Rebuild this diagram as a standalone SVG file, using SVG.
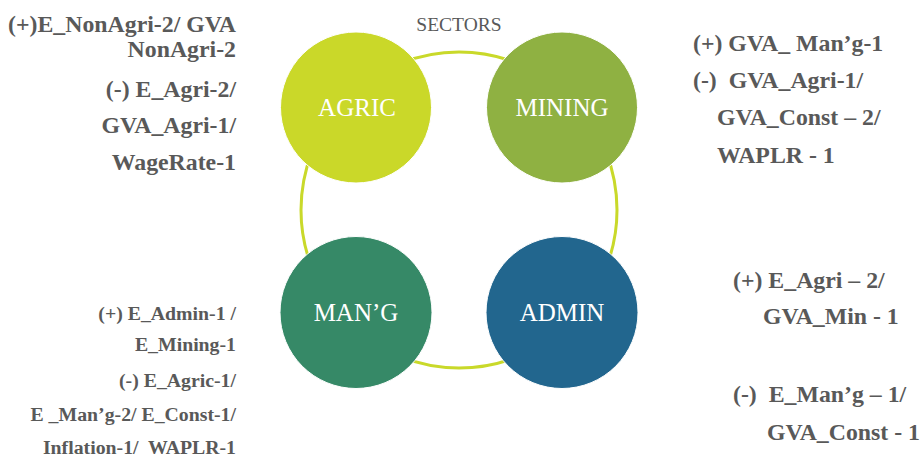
<svg xmlns="http://www.w3.org/2000/svg" width="923" height="457" viewBox="0 0 923 457">
  <style>
    .ring { fill: none; stroke: #c9d92a; stroke-width: 3; }
    .hub { stroke: #ffffff; stroke-width: 1; }
    .hub-label { font-family: "Liberation Serif", serif; font-size: 25px; fill: #ffffff; text-anchor: middle; }
    .title { font-family: "Liberation Serif", serif; font-size: 19.5px; fill: #595959; text-anchor: middle; }
    .note { font-family: "Liberation Serif", serif; font-weight: bold; font-size: 23.8px; fill: #595959; white-space: pre; }
    .note-sm { font-family: "Liberation Serif", serif; font-weight: bold; font-size: 19.8px; fill: #595959; white-space: pre; }
    .end { text-anchor: end; }
  </style>

  <rect width="923" height="457" fill="#ffffff"/>

  <!-- ring that links the four sectors -->
  <g id="connectors">
    <circle class="ring" cx="459" cy="210" r="158"/>
  </g>

  <text class="title" x="459" y="31">SECTORS</text>

  <g id="agric">
    <circle class="hub" cx="356" cy="107.5" r="75.5" fill="#cad829"/>
    <text class="hub-label" x="357" y="116">AGRIC</text>
  </g>
  <g id="mining">
    <circle class="hub" cx="562" cy="107.5" r="75.5" fill="#8fb142"/>
    <text class="hub-label" x="562" y="116">MINING</text>
  </g>
  <g id="mang">
    <circle class="hub" cx="356" cy="312.5" r="76" fill="#368967"/>
    <text class="hub-label" x="356" y="321">MAN’G</text>
  </g>
  <g id="admin">
    <circle class="hub" cx="562" cy="312.5" r="76" fill="#22668e"/>
    <text class="hub-label" x="562" y="321">ADMIN</text>
  </g>

  <!-- effects on agriculture -->
  <g id="notes-agric" class="note end">
    <text x="236" y="32">(+)E_NonAgri-2/ GVA</text>
    <text x="236" y="56.5">NonAgri-2</text>
    <text x="236" y="97">(-) E_Agri-2/</text>
    <text x="236" y="133">GVA_Agri-1/</text>
    <text x="236" y="170">WageRate-1</text>
  </g>

  <!-- effects on mining -->
  <g id="notes-mining" class="note">
    <text x="693" y="51">(+) GVA_ Man’g-1</text>
    <text x="693" y="88" xml:space="preserve">(-)  GVA_Agri-1/</text>
    <text x="717" y="125">GVA_Const – 2/</text>
    <text x="717" y="163">WAPLR - 1</text>
  </g>

  <!-- effects on manufacturing -->
  <g id="notes-mang" class="note-sm end">
    <text x="236" y="320">(+) E_Admin-1 /</text>
    <text x="236" y="351">E_Mining-1</text>
    <text x="236" y="387">(-) E_Agric-1/</text>
    <text x="236" y="421">E _Man’g-2/ E_Const-1/</text>
    <text x="236" y="454" xml:space="preserve">Inflation-1/  WAPLR-1</text>
  </g>

  <!-- effects on administration -->
  <g id="notes-admin" class="note">
    <text x="733" y="288">(+) E_Agri – 2/</text>
    <text x="763" y="324">GVA_Min - 1</text>
    <text x="733" y="402" xml:space="preserve">(-)  E_Man’g – 1/</text>
    <text x="767" y="440">GVA_Const - 1</text>
  </g>
</svg>
